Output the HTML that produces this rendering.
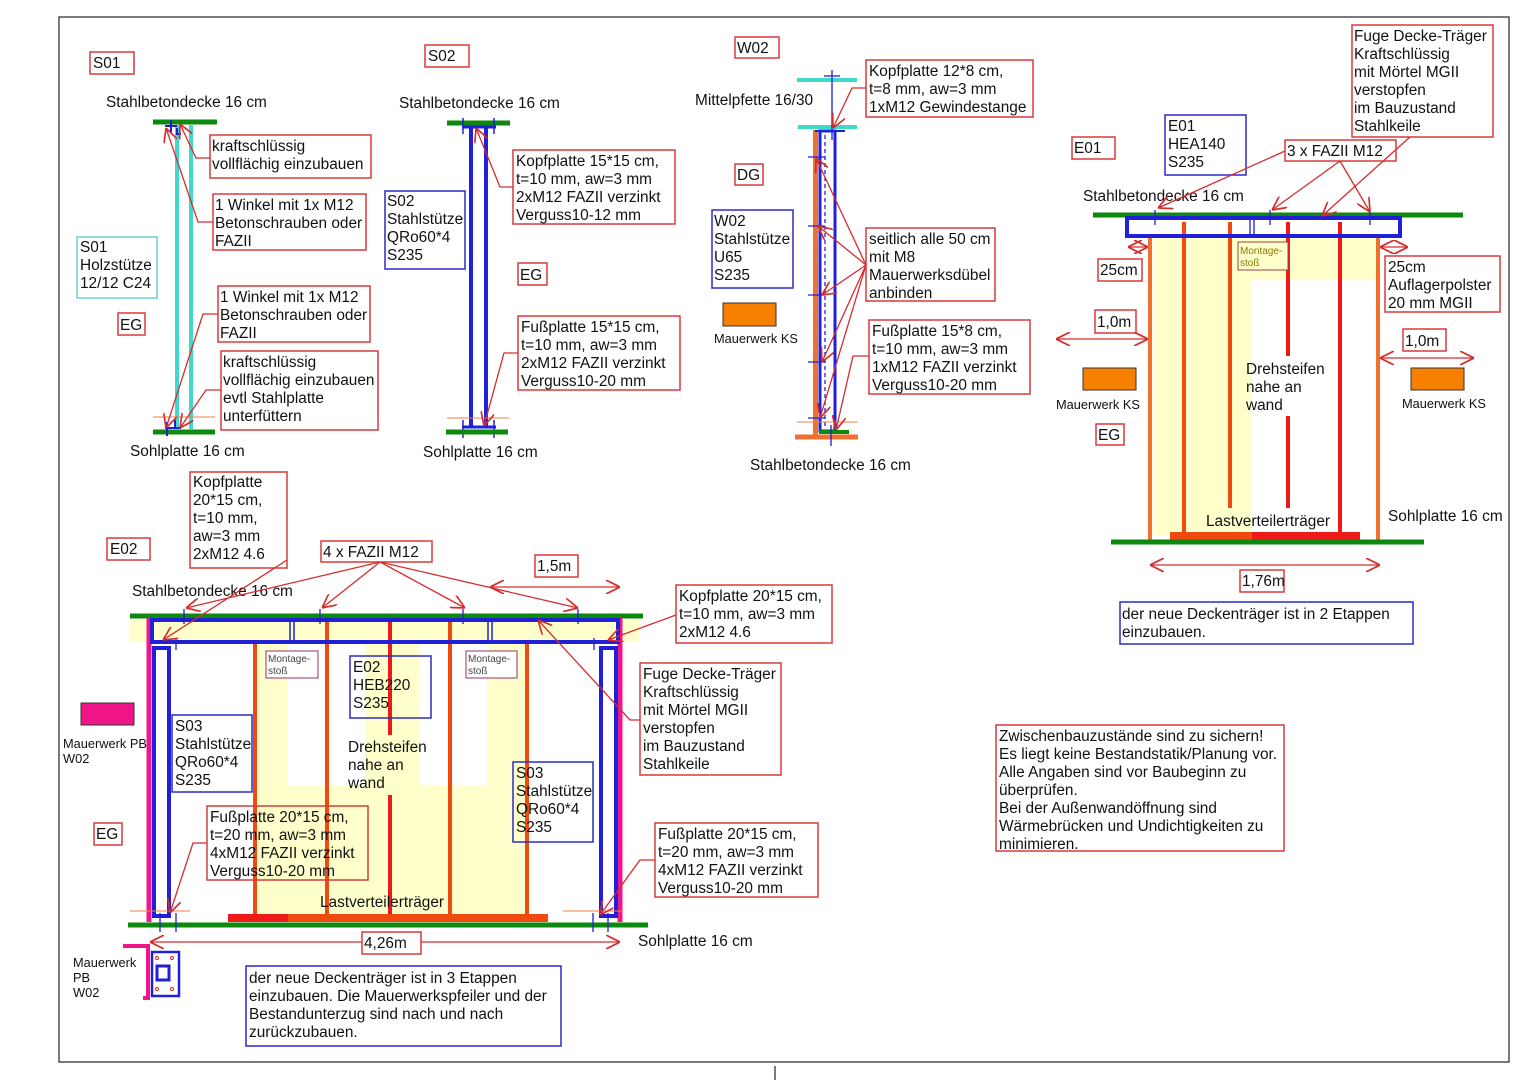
<!DOCTYPE html>
<html><head><meta charset="utf-8"><style>
html,body{margin:0;padding:0;background:#fff;}
svg{display:block;font-family:"Liberation Sans",Arial,sans-serif;}
text{font-size:15.4px;fill:#111;}
.s{font-size:12.8px;}
.xs{font-size:10px;fill:#444;}
.rb{fill:#fff;stroke:#d83a3a;stroke-width:1.5;}
.bb{fill:none;stroke:#2c2cc8;stroke-width:1.5;}
.ld{stroke:#d62c2c;stroke-width:1.3;fill:none;}
.gr{stroke:#0d8a0d;stroke-width:5;}
</style></head><body>
<svg width="1526" height="1080" viewBox="0 0 1526 1080" xmlns="http://www.w3.org/2000/svg">
<defs>
<marker id="a" viewBox="0 0 10 10" refX="10" refY="5" markerWidth="14" markerHeight="14" markerUnits="userSpaceOnUse" orient="auto-start-reverse"><path d="M0,0 L10,5 L0,10" fill="none" stroke="#d62c2c" stroke-width="1.2"/></marker>
</defs>
<rect x="59" y="17" width="1450" height="1045" fill="none" stroke="#333" stroke-width="1.3"/>
<line x1="775" y1="1066" x2="775" y2="1080" stroke="#333" stroke-width="1.3"/>

<!-- ================= S01 ================= -->
<rect class="rb" x="90" y="52" width="44" height="22"/><text x="93" y="68">S01</text>
<text x="106" y="107">Stahlbetondecke 16 cm</text>
<line class="gr" x1="153" y1="122" x2="217" y2="122"/>
<line x1="177" y1="125" x2="177" y2="429" stroke="#40d8cc" stroke-width="4"/>
<line x1="191" y1="125" x2="191" y2="429" stroke="#40d8cc" stroke-width="4"/>
<line class="gr" x1="153" y1="432" x2="215" y2="432"/>
<path d="M165,126 h12 M171,120 v12 M177,128 v6 h4" stroke="#2020d0" stroke-width="2" fill="none"/>
<path d="M165,428 h12 M167,422 v14 M175,420 v8 h6" stroke="#2020d0" stroke-width="2" fill="none"/>
<line x1="153" y1="417" x2="215" y2="417" stroke="#f08040" stroke-width="1"/>
<text x="130" y="456">Sohlplatte 16 cm</text>
<rect x="77" y="237" width="80" height="61" fill="#fff" stroke="#6ad4d4" stroke-width="1.5"/>
<text x="80" y="252">S01</text><text x="80" y="270">Holzstütze</text><text x="80" y="288">12/12 C24</text>
<rect class="rb" x="118" y="313" width="27" height="22"/><text x="120" y="330">EG</text>
<rect class="rb" x="210" y="135" width="161" height="43"/><text x="212" y="151">kraftschlüssig</text><text x="212" y="169">vollflächig einzubauen</text>
<rect class="rb" x="213" y="194" width="153" height="56"/><text x="215" y="210">1 Winkel mit 1x M12</text><text x="215" y="228">Betonschrauben oder</text><text x="215" y="246">FAZII</text>
<rect class="rb" x="218" y="286" width="152" height="56"/><text x="220" y="302">1 Winkel mit 1x M12</text><text x="220" y="320">Betonschrauben oder</text><text x="220" y="338">FAZII</text>
<rect class="rb" x="221" y="351" width="157" height="79"/><text x="223" y="367">kraftschlüssig</text><text x="223" y="385">vollflächig einzubauen</text><text x="223" y="403">evtl Stahlplatte</text><text x="223" y="421">unterfüttern</text>
<path class="ld" d="M210,158 H196 L180,124" marker-end="url(#a)"/>
<path class="ld" d="M213,222 H198 L166,128" marker-end="url(#a)"/>
<path class="ld" d="M218,314 H203 L166,428" marker-end="url(#a)"/>
<path class="ld" d="M221,390 H206 L180,428" marker-end="url(#a)"/>

<!-- ================= S02 ================= -->
<rect class="rb" x="425" y="45" width="44" height="22"/><text x="428" y="61">S02</text>
<text x="399" y="108">Stahlbetondecke 16 cm</text>
<line class="gr" x1="447" y1="123" x2="510" y2="123"/>
<line x1="471" y1="126" x2="471" y2="428" stroke="#2020d8" stroke-width="4"/>
<line x1="486" y1="126" x2="486" y2="428" stroke="#2020d8" stroke-width="4"/>
<line x1="462" y1="127" x2="496" y2="127" stroke="#2020d8" stroke-width="3"/>
<line x1="462" y1="427" x2="496" y2="427" stroke="#2020d8" stroke-width="3"/>
<line x1="463" y1="118" x2="463" y2="134" stroke="#2020d8" stroke-width="1.5"/>
<line x1="494" y1="118" x2="494" y2="134" stroke="#2020d8" stroke-width="1.5"/>
<line x1="463" y1="420" x2="463" y2="438" stroke="#2020d8" stroke-width="1.5"/>
<line x1="494" y1="420" x2="494" y2="438" stroke="#2020d8" stroke-width="1.5"/>
<line x1="447" y1="418" x2="509" y2="418" stroke="#f08040" stroke-width="1"/>
<line class="gr" x1="446" y1="432" x2="508" y2="432"/>
<text x="423" y="457">Sohlplatte 16 cm</text>
<rect class="bb" x="385" y="191" width="80" height="78"/><text x="387" y="206">S02</text><text x="387" y="224">Stahlstütze</text><text x="387" y="242">QRo60*4</text><text x="387" y="260">S235</text>
<rect class="rb" x="513" y="150" width="162" height="74"/><text x="516" y="166">Kopfplatte 15*15 cm,</text><text x="516" y="184">t=10 mm, aw=3 mm</text><text x="516" y="202">2xM12 FAZII verzinkt</text><text x="516" y="220">Verguss10-12 mm</text>
<rect class="rb" x="518" y="263" width="29" height="22"/><text x="520" y="280">EG</text>
<rect class="rb" x="518" y="316" width="162" height="74"/><text x="521" y="332">Fußplatte 15*15 cm,</text><text x="521" y="350">t=10 mm, aw=3 mm</text><text x="521" y="368">2xM12 FAZII verzinkt</text><text x="521" y="386">Verguss10-20 mm</text>
<path class="ld" d="M513,187 H500 L476,128" marker-end="url(#a)"/>
<path class="ld" d="M518,353 H504 L484,426" marker-end="url(#a)"/>

<!-- ================= W02 ================= -->
<rect class="rb" x="735" y="37" width="44" height="21"/><text x="737" y="53">W02</text>
<text x="695" y="105">Mittelpfette 16/30</text>
<line x1="797" y1="80" x2="857" y2="80" stroke="#40d8cc" stroke-width="4"/>
<line x1="798" y1="127" x2="857" y2="127" stroke="#40d8cc" stroke-width="4"/>
<line x1="832" y1="70" x2="832" y2="140" stroke="#2020d0" stroke-width="1.3"/>
<line x1="824" y1="76" x2="840" y2="76" stroke="#2020d0" stroke-width="1.3"/>
<rect x="813" y="130" width="5" height="305" fill="#f07030"/>
<rect x="820" y="131" width="15" height="300" fill="none" stroke="#2020d8" stroke-width="3"/>
<line x1="815" y1="131" x2="845" y2="131" stroke="#2020d8" stroke-width="2"/>
<line x1="825" y1="135" x2="825" y2="428" stroke="#2020d8" stroke-width="1.3" stroke-dasharray="4,3"/>
<line x1="808" y1="157" x2="825" y2="157" stroke="#2020d0" stroke-width="1.3"/>
<line x1="808" y1="226" x2="825" y2="226" stroke="#2020d0" stroke-width="1.3"/>
<line x1="808" y1="295" x2="825" y2="295" stroke="#2020d0" stroke-width="1.3"/>
<line x1="808" y1="362" x2="825" y2="362" stroke="#2020d0" stroke-width="1.3"/>
<line x1="808" y1="418" x2="825" y2="418" stroke="#2020d0" stroke-width="1.3"/>
<line x1="797" y1="422" x2="858" y2="422" stroke="#f08040" stroke-width="1"/>
<line x1="819" y1="432" x2="849" y2="432" stroke="#0d8a0d" stroke-width="4"/>
<line x1="795" y1="437" x2="858" y2="437" stroke="#f07030" stroke-width="5"/>
<line x1="831" y1="425" x2="831" y2="446" stroke="#2020d0" stroke-width="1.3"/>
<text x="750" y="470">Stahlbetondecke 16 cm</text>
<rect class="rb" x="866" y="60" width="167" height="57"/><text x="869" y="76">Kopfplatte 12*8 cm,</text><text x="869" y="94">t=8 mm, aw=3 mm</text><text x="869" y="112">1xM12 Gewindestange</text>
<rect class="rb" x="735" y="164" width="28" height="21"/><text x="737" y="180">DG</text>
<rect class="bb" x="712" y="210" width="81" height="78"/><text x="714" y="226">W02</text><text x="714" y="244">Stahlstütze</text><text x="714" y="262">U65</text><text x="714" y="280">S235</text>
<rect x="723" y="303" width="53" height="23" fill="#f78000" stroke="#333" stroke-width="1"/>
<text class="s" x="714" y="343">Mauerwerk KS</text>
<rect class="rb" x="866" y="228" width="129" height="73"/><text x="869" y="244">seitlich alle 50 cm</text><text x="869" y="262">mit M8</text><text x="869" y="280">Mauerwerksdübel</text><text x="869" y="298">anbinden</text>
<rect class="rb" x="869" y="320" width="161" height="74"/><text x="872" y="336">Fußplatte 15*8 cm,</text><text x="872" y="354">t=10 mm, aw=3 mm</text><text x="872" y="372">1xM12 FAZII verzinkt</text><text x="872" y="390">Verguss10-20 mm</text>
<path class="ld" d="M866,88 H852 L833,128" marker-end="url(#a)"/>
<path class="ld" d="M866,265 L816,158" marker-end="url(#a)"/>
<path class="ld" d="M866,265 L818,226" marker-end="url(#a)"/>
<path class="ld" d="M866,265 L822,295" marker-end="url(#a)"/>
<path class="ld" d="M866,265 L822,362" marker-end="url(#a)"/>
<path class="ld" d="M866,265 L820,418" marker-end="url(#a)"/>
<path class="ld" d="M869,356 H853 L836,430" marker-end="url(#a)"/>

<!-- ================= E01 ================= -->
<rect x="1153" y="236" width="99" height="299" fill="#ffffcc"/>
<rect x="1252" y="236" width="128" height="44" fill="#ffffcc"/>
<rect class="rb" x="1352" y="25" width="141" height="112"/><text x="1354" y="41">Fuge Decke-Träger</text><text x="1354" y="59">Kraftschlüssig</text><text x="1354" y="77">mit Mörtel MGII</text><text x="1354" y="95">verstopfen</text><text x="1354" y="113">im Bauzustand</text><text x="1354" y="131">Stahlkeile</text>
<rect class="rb" x="1072" y="137" width="43" height="22"/><text x="1074" y="153">E01</text>
<rect class="bb" x="1165" y="115" width="81" height="60"/><text x="1168" y="131">E01</text><text x="1168" y="149">HEA140</text><text x="1168" y="167">S235</text>
<rect class="rb" x="1285" y="140" width="111" height="21"/><text x="1287" y="156">3 x FAZII M12</text>
<text x="1083" y="201">Stahlbetondecke 16 cm</text>
<line class="gr" x1="1093" y1="215" x2="1463" y2="215"/>
<line x1="1150" y1="238" x2="1150" y2="540" stroke="#f07030" stroke-width="4"/>
<line x1="1378" y1="238" x2="1378" y2="540" stroke="#f07030" stroke-width="4"/>
<line x1="1184" y1="222" x2="1184" y2="535" stroke="#f04a10" stroke-width="4"/>
<line x1="1230" y1="222" x2="1230" y2="508" stroke="#f04a10" stroke-width="4"/>
<line x1="1288" y1="222" x2="1288" y2="356" stroke="#ee1a1a" stroke-width="4"/>
<line x1="1288" y1="416" x2="1288" y2="508" stroke="#ee1a1a" stroke-width="4"/>
<line x1="1340" y1="222" x2="1340" y2="535" stroke="#ee1a1a" stroke-width="4"/>
<rect x="1127" y="218" width="273" height="18" fill="none" stroke="#2020d8" stroke-width="4"/>
<line x1="1155" y1="210" x2="1155" y2="225" stroke="#2020d0" stroke-width="1.3"/>
<line x1="1270" y1="210" x2="1270" y2="225" stroke="#2020d0" stroke-width="1.3"/>
<line x1="1370" y1="210" x2="1370" y2="225" stroke="#2020d0" stroke-width="1.3"/>
<line x1="1250" y1="220" x2="1250" y2="235" stroke="#2020d0" stroke-width="1.3"/>
<line x1="1254" y1="220" x2="1254" y2="235" stroke="#2020d0" stroke-width="1.3"/>
<rect x="1238" y="242" width="50" height="28" fill="#ffffcc" stroke="#a04040" stroke-width="1"/>
<text class="xs" x="1240" y="254" style="fill:#8a7a00">Montage-</text><text class="xs" x="1240" y="266" style="fill:#8a7a00">stoß</text>
<path class="ld" d="M1128,247 H1148" marker-start="url(#a)" marker-end="url(#a)"/>
<path class="ld" d="M1380,247 H1408" marker-start="url(#a)" marker-end="url(#a)"/>
<rect class="rb" x="1098" y="259" width="44" height="22"/><text x="1100" y="275">25cm</text>
<rect class="rb" x="1385" y="256" width="115" height="56"/><text x="1388" y="272">25cm</text><text x="1388" y="290">Auflagerpolster</text><text x="1388" y="308">20 mm MGII</text>
<rect class="rb" x="1095" y="310" width="41" height="23"/><text x="1097" y="327">1,0m</text>
<path class="ld" d="M1056,339 H1148" marker-start="url(#a)" marker-end="url(#a)"/>
<rect class="rb" x="1403" y="329" width="43" height="22"/><text x="1405" y="346">1,0m</text>
<path class="ld" d="M1380,358 H1474" marker-start="url(#a)" marker-end="url(#a)"/>
<rect x="1083" y="368" width="53" height="22" fill="#f78000" stroke="#333" stroke-width="1"/>
<rect x="1411" y="368" width="53" height="22" fill="#f78000" stroke="#333" stroke-width="1"/>
<text class="s" x="1056" y="409">Mauerwerk KS</text>
<text class="s" x="1402" y="408">Mauerwerk KS</text>
<rect class="rb" x="1096" y="424" width="28" height="21"/><text x="1098" y="440">EG</text>
<text x="1246" y="374">Drehsteifen</text><text x="1246" y="392">nahe an</text><text x="1246" y="410">wand</text>
<text x="1206" y="526">Lastverteilerträger</text>
<rect x="1170" y="532" width="82" height="8" fill="#f04a10"/><rect x="1252" y="532" width="108" height="8" fill="#ee1a1a"/>
<line class="gr" x1="1111" y1="542" x2="1424" y2="542"/>
<text x="1388" y="521">Sohlplatte 16 cm</text>
<path class="ld" d="M1150,565 H1380" marker-start="url(#a)" marker-end="url(#a)"/>
<rect class="rb" x="1240" y="570" width="44" height="22"/><text x="1242" y="586">1,76m</text>
<rect class="bb" x="1120" y="602" width="293" height="42"/><text x="1122" y="619">der neue Deckenträger ist in 2 Etappen</text><text x="1122" y="637">einzubauen.</text>
<path class="ld" d="M1285,151 L1158,208" marker-end="url(#a)"/>
<path class="ld" d="M1340,161 L1272,210" marker-end="url(#a)"/>
<path class="ld" d="M1340,161 L1370,212" marker-end="url(#a)"/>
<path class="ld" d="M1410,137 L1322,216" marker-end="url(#a)"/>

<!-- ================= E02 ================= -->
<rect x="130" y="620" width="510" height="22" fill="#ffffcc"/>
<rect x="255" y="642" width="32" height="272" fill="#ffffcc"/>
<rect x="287" y="785" width="240" height="129" fill="#ffffcc"/>
<rect x="365" y="642" width="55" height="143" fill="#ffffcc"/>
<rect x="487" y="642" width="40" height="143" fill="#ffffcc"/>
<rect class="rb" x="190" y="472" width="97" height="96"/><text x="193" y="487">Kopfplatte</text><text x="193" y="505">20*15 cm,</text><text x="193" y="523">t=10 mm,</text><text x="193" y="541">aw=3 mm</text><text x="193" y="559">2xM12 4.6</text>
<rect class="rb" x="107" y="538" width="43" height="22"/><text x="110" y="554">E02</text>
<rect class="rb" x="321" y="541" width="111" height="21"/><text x="323" y="557">4 x FAZII M12</text>
<rect class="rb" x="535" y="555" width="43" height="22"/><text x="537" y="571">1,5m</text>
<path class="ld" d="M490,587 H620" marker-start="url(#a)" marker-end="url(#a)"/>
<text x="132" y="596">Stahlbetondecke 16 cm</text>
<line class="gr" x1="130" y1="616" x2="643" y2="616"/>
<line x1="149" y1="618" x2="149" y2="922" stroke="#f0168a" stroke-width="5"/>
<line x1="620" y1="618" x2="620" y2="922" stroke="#f0168a" stroke-width="5"/>
<line x1="255" y1="643" x2="255" y2="915" stroke="#f04a10" stroke-width="4"/>
<line x1="327" y1="622" x2="327" y2="915" stroke="#f04a10" stroke-width="4"/>
<line x1="390" y1="622" x2="390" y2="735" stroke="#ee1a1a" stroke-width="4"/>
<line x1="390" y1="795" x2="390" y2="915" stroke="#ee1a1a" stroke-width="4"/>
<line x1="450" y1="622" x2="450" y2="915" stroke="#f04a10" stroke-width="4"/>
<line x1="527" y1="643" x2="527" y2="915" stroke="#f04a10" stroke-width="4"/>
<rect x="152" y="620" width="466" height="22" fill="none" stroke="#2020d8" stroke-width="4"/>
<rect x="154" y="648" width="15" height="268" fill="none" stroke="#2020d8" stroke-width="4"/>
<rect x="601" y="648" width="15" height="268" fill="none" stroke="#2020d8" stroke-width="4"/>
<line x1="290" y1="622" x2="290" y2="640" stroke="#2020d0" stroke-width="1.5"/><line x1="294" y1="622" x2="294" y2="640" stroke="#2020d0" stroke-width="1.5"/>
<line x1="488" y1="622" x2="488" y2="640" stroke="#2020d0" stroke-width="1.5"/><line x1="492" y1="622" x2="492" y2="640" stroke="#2020d0" stroke-width="1.5"/>
<line x1="184" y1="609" x2="184" y2="624" stroke="#2020d0" stroke-width="1.3"/>
<line x1="320" y1="609" x2="320" y2="624" stroke="#2020d0" stroke-width="1.3"/>
<line x1="463" y1="609" x2="463" y2="624" stroke="#2020d0" stroke-width="1.3"/>
<line x1="578" y1="609" x2="578" y2="624" stroke="#2020d0" stroke-width="1.3"/>
<line x1="176" y1="638" x2="176" y2="650" stroke="#2020d0" stroke-width="1.3"/>
<line x1="594" y1="638" x2="594" y2="650" stroke="#2020d0" stroke-width="1.3"/>
<line x1="130" y1="911" x2="190" y2="911" stroke="#f08040" stroke-width="1"/>
<line x1="563" y1="911" x2="623" y2="911" stroke="#f08040" stroke-width="1"/>
<rect x="228" y="914" width="320" height="8" fill="#f04a10"/><rect x="228" y="914" width="60" height="8" fill="#ee1a1a"/>
<line class="gr" x1="128" y1="925" x2="648" y2="925"/>
<line x1="160" y1="913" x2="160" y2="932" stroke="#2020d0" stroke-width="1.3"/><line x1="176" y1="913" x2="176" y2="932" stroke="#2020d0" stroke-width="1.3"/>
<line x1="593" y1="913" x2="593" y2="932" stroke="#2020d0" stroke-width="1.3"/><line x1="608" y1="913" x2="608" y2="932" stroke="#2020d0" stroke-width="1.3"/>
<rect x="266" y="651" width="52" height="27" fill="#fff" stroke="#903070" stroke-width="1"/><text class="xs" x="268" y="662">Montage-</text><text class="xs" x="268" y="674">stoß</text>
<rect x="466" y="651" width="51" height="27" fill="#fff" stroke="#903070" stroke-width="1"/><text class="xs" x="468" y="662">Montage-</text><text class="xs" x="468" y="674">stoß</text>
<rect class="bb" x="350" y="656" width="81" height="62"/><text x="353" y="672">E02</text><text x="353" y="690">HEB220</text><text x="353" y="708">S235</text>
<rect class="bb" x="172" y="715" width="80" height="77" style="fill:#fff"/><text x="175" y="731">S03</text><text x="175" y="749">Stahlstütze</text><text x="175" y="767">QRo60*4</text><text x="175" y="785">S235</text>
<rect class="bb" x="513" y="762" width="80" height="80"/><text x="516" y="778">S03</text><text x="516" y="796">Stahlstütze</text><text x="516" y="814">QRo60*4</text><text x="516" y="832">S235</text>
<text x="348" y="752">Drehsteifen</text><text x="348" y="770">nahe an</text><text x="348" y="788">wand</text>
<rect class="rb" x="207" y="806" width="161" height="74" style="fill:none"/><text x="210" y="822">Fußplatte 20*15 cm,</text><text x="210" y="840">t=20 mm, aw=3 mm</text><text x="210" y="858">4xM12 FAZII verzinkt</text><text x="210" y="876">Verguss10-20 mm</text>
<text x="320" y="907">Lastverteilerträger</text>
<path class="ld" d="M150,942 H620" marker-start="url(#a)" marker-end="url(#a)"/>
<rect class="rb" x="362" y="932" width="59" height="22"/><text x="364" y="948">4,26m</text>
<text x="638" y="946">Sohlplatte 16 cm</text>
<rect class="rb" x="676" y="585" width="156" height="58"/><text x="679" y="601">Kopfplatte 20*15 cm,</text><text x="679" y="619">t=10 mm, aw=3 mm</text><text x="679" y="637">2xM12 4.6</text>
<rect class="rb" x="640" y="663" width="141" height="112"/><text x="643" y="679">Fuge Decke-Träger</text><text x="643" y="697">Kraftschlüssig</text><text x="643" y="715">mit Mörtel MGII</text><text x="643" y="733">verstopfen</text><text x="643" y="751">im Bauzustand</text><text x="643" y="769">Stahlkeile</text>
<rect class="rb" x="655" y="823" width="163" height="74"/><text x="658" y="839">Fußplatte 20*15 cm,</text><text x="658" y="857">t=20 mm, aw=3 mm</text><text x="658" y="875">4xM12 FAZII verzinkt</text><text x="658" y="893">Verguss10-20 mm</text>
<path class="ld" d="M380,562 L186,608" marker-end="url(#a)"/>
<path class="ld" d="M380,562 L322,608" marker-end="url(#a)"/>
<path class="ld" d="M380,562 L465,608" marker-end="url(#a)"/>
<path class="ld" d="M380,562 L578,608" marker-end="url(#a)"/>
<path class="ld" d="M287,560 L163,640" marker-end="url(#a)"/>
<path class="ld" d="M676,615 L608,640" marker-end="url(#a)"/>
<path class="ld" d="M640,720 H630 L538,620" marker-end="url(#a)"/>
<path class="ld" d="M207,843 H193 L170,913" marker-end="url(#a)"/>
<path class="ld" d="M655,860 H640 L600,915" marker-end="url(#a)"/>
<rect x="81" y="703" width="53" height="22" fill="#f0168a" stroke="#333" stroke-width="1"/>
<text class="s" x="63" y="748">Mauerwerk PB</text><text class="s" x="63" y="763">W02</text>
<rect class="rb" x="94" y="823" width="28" height="22"/><text x="96" y="839">EG</text>
<path d="M123,946 H148 V998 H143" fill="none" stroke="#f0168a" stroke-width="4"/>
<rect x="152" y="952" width="27" height="44" fill="#fff" stroke="#2020d8" stroke-width="2.5"/>
<rect x="157" y="966" width="12" height="14" fill="none" stroke="#2020d8" stroke-width="3"/>
<circle cx="157" cy="958" r="1.5" fill="none" stroke="#d62c2c"/><circle cx="172" cy="958" r="1.5" fill="none" stroke="#d62c2c"/>
<circle cx="157" cy="989" r="1.5" fill="none" stroke="#d62c2c"/><circle cx="172" cy="989" r="1.5" fill="none" stroke="#d62c2c"/>
<text class="s" x="73" y="967">Mauerwerk</text><text class="s" x="73" y="982">PB</text><text class="s" x="73" y="997">W02</text>
<rect class="bb" x="246" y="966" width="315" height="80"/><text x="249" y="983">der neue Deckenträger ist in 3 Etappen</text><text x="249" y="1001">einzubauen. Die Mauerwerkspfeiler und der</text><text x="249" y="1019">Bestandunterzug sind nach und nach</text><text x="249" y="1037">zurückzubauen.</text>

<rect class="rb" x="996" y="725" width="288" height="126"/><text x="999" y="741">Zwischenbauzustände sind zu sichern!</text><text x="999" y="759">Es liegt keine Bestandstatik/Planung vor.</text><text x="999" y="777">Alle Angaben sind vor Baubeginn zu</text><text x="999" y="795">überprüfen.</text><text x="999" y="813">Bei der Außenwandöffnung sind</text><text x="999" y="831">Wärmebrücken und Undichtigkeiten zu</text><text x="999" y="849">minimieren.</text>
</svg>
</body></html>
